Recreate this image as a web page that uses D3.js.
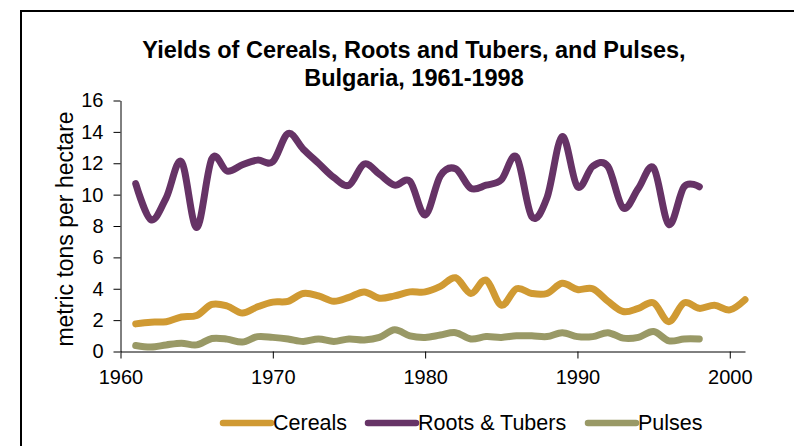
<!DOCTYPE html>
<html>
<head>
<meta charset="utf-8">
<script src="https://cdn.jsdelivr.net/npm/d3@7"></script>
<style>
  html, body { margin: 0; padding: 0; background: #fff; overflow: hidden; }
  svg { display: block; font-family: 'Liberation Sans', Arial, sans-serif; }
</style>
</head>
<body>
<main></main>
<script>
/************************************************************************
 Data (metric tons per hectare)
************************************************************************/
const startYear = 1961;
const cereals = [1.76, 1.87, 1.9, 2.2, 2.3, 3.0, 2.9, 2.45, 2.85, 3.15, 3.2, 3.7, 3.55, 3.2, 3.45, 3.8, 3.4, 3.55, 3.8, 3.8,
  4.15, 4.7, 3.7, 4.55, 2.95, 4.0, 3.7, 3.7, 4.35, 3.95, 4.0, 3.2, 2.55, 2.75, 3.1, 1.9, 3.1, 2.75, 2.95, 2.65, 3.3];
const rootsTubers = [10.7, 8.4, 9.8, 12.1, 7.9, 12.3, 11.5, 11.9, 12.2, 12.1, 13.9, 12.9, 12.0, 11.1, 10.6, 11.95, 11.3, 10.6, 10.85, 8.7,
  11.2, 11.65, 10.4, 10.6, 10.95, 12.4, 8.6, 9.8, 13.7, 10.5, 11.8, 11.8, 9.15, 10.4, 11.7, 8.1, 10.5, 10.5];
const pulses = [0.38, 0.28, 0.42, 0.53, 0.42, 0.83, 0.79, 0.6, 0.95, 0.9, 0.8, 0.64, 0.8, 0.64, 0.8, 0.74, 0.9, 1.38, 1.0, 0.9,
  1.05, 1.2, 0.8, 0.95, 0.9, 1.0, 1.0, 0.95, 1.2, 0.95, 0.95, 1.2, 0.85, 0.9, 1.27, 0.68, 0.8, 0.8];
const seriesNames = ['Cereals', 'Roots & Tubers', 'Pulses'];
const seriesColors = ['#D09A33', '#663366', '#999966'];
const xTicks = [1960, 1970, 1980, 1990, 2000];
const yTicks = [0, 2, 4, 6, 8, 10, 12, 14, 16];
const titleLines = ['Yields of Cereals, Roots and Tubers, and Pulses,', 'Bulgaria, 1961-1998'];

// layout
const width = 794;
const height = 446;
const plotLeft = 120.5;
const plotRight = 745;
const plotTop = 100.5;
const plotBottom = 351.5;
const tickSize = 7;
const lineWidth = 7;

const svg = d3.select('main')
  .append('svg')
  .attr('width', width)
  .attr('height', height);

// outer chart frame (runs off the right / bottom edge)
svg.append('rect')
  .attr('x', 21)
  .attr('y', 11)
  .attr('width', width + 20)
  .attr('height', height + 20)
  .attr('fill', 'none')
  .attr('stroke', '#000')
  .attr('stroke-width', 2);


/************************************************************************
 Scales
************************************************************************/
const xScale = d3.scaleLinear()
  .domain([1960, 2001])
  .range([plotLeft, plotRight]);

const yScale = d3.scaleLinear()
  .domain([0, 16])
  .range([plotBottom, plotTop]);


/************************************************************************
 Axes
************************************************************************/
const xAxis = d3.axisBottom(xScale)
  .tickValues(xTicks)
  .tickFormat(d => d)
  .tickSizeInner(tickSize)
  .tickSizeOuter(0)
  .tickPadding(11);

const xG = svg.append('g')
  .attr('transform', `translate(0, ${plotBottom})`)
  .call(xAxis);

const yAxis = d3.axisLeft(yScale)
  .tickValues(yTicks)
  .tickSizeInner(tickSize)
  .tickSizeOuter(0)
  .tickPadding(10);

const yG = svg.append('g')
  .attr('transform', `translate(${plotLeft}, 0)`)
  .call(yAxis);

[xG, yG].forEach(g => {
  g.attr('font-family', null).attr('font-size', 20);
  g.selectAll('.domain, line').attr('stroke', '#000');
  g.selectAll('text').attr('fill', '#000');
});

// y axis name, rotated
svg.append('text')
  .text('metric tons per hectare')
  .attr('transform', `translate(73, ${(plotTop + plotBottom) / 2 + 3}) rotate(-90)`)
  .attr('text-anchor', 'middle')
  .attr('font-size', 23);


/************************************************************************
 Lines
************************************************************************/
const line = d3.line()
  .x((d, i) => xScale(startYear + i))
  .y(d => yScale(d))
  .curve(d3.curveCatmullRom.alpha(0));

[cereals, rootsTubers, pulses].forEach((values, i) => {
  svg.append('path')
    .datum(values)
    .attr('d', line)
    .attr('fill', 'none')
    .attr('stroke', seriesColors[i])
    .attr('stroke-width', lineWidth)
    .attr('stroke-linecap', 'round')
    .attr('stroke-linejoin', 'round');
});


/************************************************************************
 Title
************************************************************************/
titleLines.forEach((t, i) => {
  svg.append('text')
    .text(t)
    .attr('x', 414)
    .attr('y', 58 + i * 28)
    .attr('text-anchor', 'middle')
    .attr('font-size', 23.5)
    .attr('font-weight', 'bold');
});


/************************************************************************
 Legend
************************************************************************/
const legendX = [220, 365, 585];
seriesNames.forEach((name, i) => {
  svg.append('line')
    .attr('x1', legendX[i] + 3)
    .attr('x2', legendX[i] + 51)
    .attr('y1', 423)
    .attr('y2', 423)
    .attr('stroke', seriesColors[i])
    .attr('stroke-width', 6.5)
    .attr('stroke-linecap', 'round');

  svg.append('text')
    .text(name)
    .attr('x', legendX[i] + 53)
    .attr('y', 430)
    .attr('font-size', 21.5);
});
</script>
</body>
</html>
